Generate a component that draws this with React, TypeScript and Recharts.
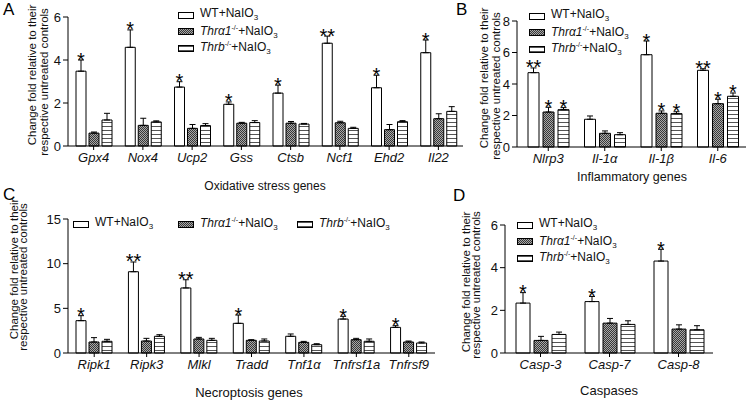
import React from 'react';
import { BarChart, Bar, XAxis, YAxis, ErrorBar, LabelList, Legend } from 'recharts';

const FONT = "'Liberation Sans', Arial, Helvetica, sans-serif";

// A: oxidative stress genes
const oxGenes = ['Gpx4', 'Nox4', 'Ucp2', 'Gss', 'Ctsb', 'Ncf1', 'Ehd2', 'Il22'];
const oxWt = [3.48, 4.59, 2.74, 1.94, 2.46, 4.78, 2.71, 4.34];
const oxWtErr = [0.52, 0.81, 0.25, 0.11, 0.37, 0.33, 0.58, 0.59];
const oxThra = [0.6, 0.96, 0.82, 1.06, 1.06, 1.08, 0.76, 1.27];
const oxThraErr = [0.05, 0.33, 0.18, 0.04, 0.08, 0.07, 0.24, 0.23];
const oxThrb = [1.21, 1.12, 0.95, 1.09, 1.02, 0.82, 1.13, 1.61];
const oxThrbErr = [0.31, 0.05, 0.09, 0.09, 0.03, 0.05, 0.05, 0.22];
const oxStars = ['*', '*', '*', '*', '*', '**', '*', '*'];

// B: inflammatory genes
const inflGenes = ['Nlrp3', 'Il-1α', 'Il-1β', 'Il-6'];
const inflWt = [4.72, 1.76, 5.86, 4.87];
const inflWtErr = [0.3, 0.21, 0.87, 0.1];
const inflThra = [2.22, 0.87, 2.14, 2.75];
const inflThraErr = [0.3, 0.15, 0.15, 0.28];
const inflThrb = [2.37, 0.78, 2.12, 3.22];
const inflThrbErr = [0.13, 0.13, 0.12, 0.21];
const inflWtStars = ['**', '', '*', '**'];
const inflThraStars = ['*', '', '*', '*'];
const inflThrbStars = ['*', '', '*', '*'];

// C: necroptosis genes
const necGenes = ['Ripk1', 'Ripk3', 'Mlkl', 'Tradd', 'Tnf1α', 'Tnfrsf1a', 'Tnfrsf9'];
const necWt = [3.62, 9.1, 7.28, 3.32, 1.87, 3.8, 2.87];
const necWtErr = [0.56, 1.09, 0.92, 0.93, 0.26, 0.3, 0.19];
const necThra = [1.23, 1.34, 1.57, 1.42, 1.19, 1.49, 1.23];
const necThraErr = [0.49, 0.3, 0.18, 0.07, 0.11, 0.15, 0.11];
const necThrb = [1.31, 1.87, 1.42, 1.34, 0.93, 1.31, 1.12];
const necThrbErr = [0.22, 0.18, 0.22, 0.23, 0.11, 0.26, 0.11];
const necStars = ['*', '**', '**', '*', '', '*', '*'];

// D: caspases
const caspGenes = ['Casp-3', 'Casp-7', 'Casp-8'];
const caspWt = [2.34, 2.41, 4.31];
const caspWtErr = [0.49, 0.24, 0.55];
const caspThra = [0.59, 1.4, 1.12];
const caspThraErr = [0.19, 0.22, 0.2];
const caspThrb = [0.87, 1.34, 1.09];
const caspThrbErr = [0.11, 0.17, 0.19];
const caspStars = ['*', '*', '*'];

const none: string[] = [];

const makeRows = (
  names: string[],
  wt: number[], wtErr: number[],
  thra: number[], thraErr: number[],
  thrb: number[], thrbErr: number[],
  wtS: string[], thraS: string[], thrbS: string[]
) =>
  names.map((name, i) => ({
    name,
    wt: wt[i], wtE: [0, wtErr[i]], wtErr: wtErr[i], wtS: wtS[i] || '',
    thra: thra[i], thraE: [0, thraErr[i]], thraErr: thraErr[i], thraS: thraS[i] || '',
    thrb: thrb[i], thrbE: [0, thrbErr[i]], thrbErr: thrbErr[i], thrbS: thrbS[i] || '',
  }));

const series = [
  { key: 'wt', fill: '#fff' },
  { key: 'thra', fill: 'url(#hatch)' },
  { key: 'thrb', fill: 'url(#stripe)' },
];

const LegendText = ({ k }: { k: string }) => {
  const sub = <sub style={{ fontSize: 8, verticalAlign: -3 }}>3</sub>;
  const sup = <sup style={{ fontSize: 7, verticalAlign: 5 }}>-/-</sup>;
  if (k === 'wt') return <span>WT+NaIO{sub}</span>;
  if (k === 'thra') return <span><i>Thrα1</i>{sup}+NaIO{sub}</span>;
  return <span><i>Thrb</i>{sup}+NaIO{sub}</span>;
};

const Swatch = ({ fill }: { fill: string }) => (
  <svg width={16} height={9} style={{ marginRight: 6, flex: 'none', overflow: 'visible' }}>
    <rect x={0.5} y={1.5} width={15} height={6} fill={fill} stroke="#000" strokeWidth={1} />
  </svg>
);

const makeLegend = (xs: number[] | null) => () => (
  <div style={{ position: 'relative', fontFamily: FONT, fontSize: 12, color: '#111' }}>
    {series.map((s, i) => (
      <div
        key={s.key}
        style={{
          display: 'flex', alignItems: 'center', height: 16.5, lineHeight: '16px', whiteSpace: 'nowrap',
          ...(xs ? { position: 'absolute', left: xs[i], top: 0 } : {}),
        }}
      >
        <Swatch fill={s.fill} />
        <LegendText k={s.key} />
      </div>
    ))}
  </div>
);

// stars sit just above the error bar cap
const starContent = (rows: any[], key: string) => (p: any) => {
  const row = rows[p.index];
  if (!row || !row[key + 'S']) return null;
  const vb = p.viewBox || {};
  const x = Number(p.x ?? vb.x);
  const y = Number(p.y ?? vb.y);
  const w = Number(p.width ?? vb.width);
  const h = Math.abs(Number(p.height ?? vb.height));
  const top = y - (row[key + 'Err'] * h) / row[key];
  return (
    <text x={x + w / 2} y={top + 6.5} textAnchor="middle" fontSize={20} fill="#000" fontFamily={FONT}>
      {row[key + 'S']}
    </text>
  );
};

type PanelProps = {
  rows: any[];
  left: number; top: number; width: number; height: number;
  margin: { top: number; right: number; bottom: number; left: number };
  yAxisWidth: number;
  yMax: number; yTicks: number[];
  barSize: number; barGap: number; padLeft: number;
  starKeys: string[];
  legendPos: { left: number; top: number };
  legendXs: number[] | null;
};

const Panel = (p: PanelProps) => (
  <div style={{ position: 'absolute', left: p.left, top: p.top }}>
    <BarChart
      width={p.width}
      height={p.height}
      data={p.rows}
      margin={p.margin}
      barSize={p.barSize}
      barGap={p.barGap}
      style={{ fontFamily: FONT }}
    >
      <XAxis
        dataKey="name"
        interval={0}
        height={25}
        stroke="#000"
        tickSize={4}
        tickMargin={3}
        padding={{ left: p.padLeft, right: 0 }}
        tick={{ fontSize: 13, fontStyle: 'italic', fill: '#111' }}
      />
      <YAxis
        width={p.yAxisWidth}
        domain={[0, p.yMax]}
        ticks={p.yTicks}
        stroke="#000"
        tickSize={5}
        tickMargin={2}
        tick={{ fontSize: 13, fill: '#111' }}
      />
      {series.map((s) => (
        <Bar key={s.key} dataKey={s.key} fill={s.fill} stroke="#000" strokeWidth={1} isAnimationActive={false}>
          <ErrorBar dataKey={s.key + 'E'} width={3} stroke="#000" strokeWidth={1} direction="y" />
          {p.starKeys.includes(s.key) && (
            <LabelList dataKey={s.key + 'S'} content={starContent(p.rows, s.key)} />
          )}
        </Bar>
      ))}
      <Legend
        layout="vertical"
        align="center"
        verticalAlign="middle"
        content={makeLegend(p.legendXs)}
        wrapperStyle={{ position: 'absolute', left: p.legendPos.left, top: p.legendPos.top, width: 'auto' }}
      />
    </BarChart>
  </div>
);

const rowsA = makeRows(oxGenes, oxWt, oxWtErr, oxThra, oxThraErr, oxThrb, oxThrbErr, oxStars, none, none);
const rowsB = makeRows(inflGenes, inflWt, inflWtErr, inflThra, inflThraErr, inflThrb, inflThrbErr, inflWtStars, inflThraStars, inflThrbStars);
const rowsC = makeRows(necGenes, necWt, necWtErr, necThra, necThraErr, necThrb, necThrbErr, necStars, none, none);
const rowsD = makeRows(caspGenes, caspWt, caspWtErr, caspThra, caspThraErr, caspThrb, caspThrbErr, caspStars, none, none);

const YTitle = ({ x1, c1, x2, c2 }: { x1: number; c1: number; x2: number; c2: number }) => (
  <g fontSize={11.5} fill="#111">
    <text transform={`translate(${x1},${c1}) rotate(-90)`} textAnchor="middle" dominantBaseline="central">
      Change fold relative to their
    </text>
    <text transform={`translate(${x2},${c2}) rotate(-90)`} textAnchor="middle" dominantBaseline="central">
      respective untreated controls
    </text>
  </g>
);

export default function App() {
  return (
    <div style={{ position: 'absolute', left: 0, top: 0, width: 748, height: 403, background: '#fff', fontFamily: FONT }}>
      <svg width={0} height={0} style={{ position: 'absolute' }}>
        <defs>
          <pattern id="hatch" width={2} height={2} patternUnits="userSpaceOnUse">
            <rect width={2} height={2} fill="#a8a8a8" />
            <rect width={1} height={1} fill="#383838" />
            <rect x={1} y={1} width={1} height={1} fill="#383838" />
          </pattern>
          <pattern id="stripe" width={4} height={4} patternUnits="userSpaceOnUse">
            <rect width={4} height={4} fill="#fff" />
            <rect y={2} width={4} height={1} fill="#555" />
          </pattern>
        </defs>
      </svg>

      <Panel
        rows={rowsA}
        left={0} top={0} width={475} height={200}
        margin={{ top: 17, right: 12, bottom: 29, left: 28 }}
        yAxisWidth={40}
        yMax={6} yTicks={[0, 2, 4, 6]}
        barSize={10} barGap={3} padLeft={1}
        starKeys={['wt']}
        legendPos={{ left: 178, top: 7 }}
        legendXs={null}
      />
      <Panel
        rows={rowsB}
        left={470} top={0} width={278} height={200}
        margin={{ top: 21, right: 2, bottom: 28, left: 17 }}
        yAxisWidth={30}
        yMax={8} yTicks={[0, 2, 4, 6, 8]}
        barSize={11} barGap={4} padLeft={3}
        starKeys={['wt', 'thra', 'thrb']}
        legendPos={{ left: 59, top: 8 }}
        legendXs={null}
      />
      <Panel
        rows={rowsC}
        left={0} top={200} width={445} height={203}
        margin={{ top: 19, right: 10, bottom: 25, left: 28 }}
        yAxisWidth={40}
        yMax={15} yTicks={[0, 5, 10, 15]}
        barSize={10} barGap={3} padLeft={0}
        starKeys={['wt']}
        legendPos={{ left: 73, top: 16 }}
        legendXs={[0, 105, 224]}
      />
      <Panel
        rows={rowsD}
        left={455} top={200} width={293} height={203}
        margin={{ top: 25, right: 35, bottom: 25, left: 20 }}
        yAxisWidth={30}
        yMax={6} yTicks={[0, 2, 4, 6]}
        barSize={14} barGap={4} padLeft={1}
        starKeys={['wt']}
        legendPos={{ left: 62, top: 17 }}
        legendXs={null}
      />

      <svg width={748} height={403} style={{ position: 'absolute', left: 0, top: 0, pointerEvents: 'none' }} fontFamily={FONT}>
        <g fontSize={17} fill="#000">
          <text x={3} y={15}>A</text>
          <text x={456} y={15}>B</text>
          <text x={3} y={200}>C</text>
          <text x={453} y={201}>D</text>
        </g>
        <g fill="#111" textAnchor="middle">
          <text x={265} y={189.5} fontSize={12}>Oxidative stress genes</text>
          <text x={632} y={181} fontSize={12.5}>Inflammatory genes</text>
          <text x={249} y={397} fontSize={13}>Necroptosis genes</text>
          <text x={609} y={395} fontSize={13}>Caspases</text>
        </g>
        <YTitle x1={32} c1={75} x2={44} c2={82} />
        <YTitle x1={484} c1={78} x2={496} c2={86} />
        <YTitle x1={13.5} c1={269} x2={23} c2={277} />
        <YTitle x1={466} c1={282} x2={476} c2={285} />
      </svg>
    </div>
  );
}
